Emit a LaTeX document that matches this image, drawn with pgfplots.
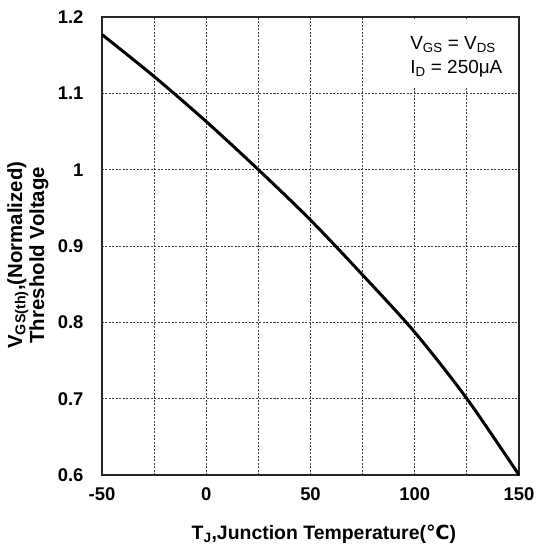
\documentclass[border=0pt]{standalone}
\usepackage{fontspec}
\setmainfont{Liberation Sans}
\newfontfamily\dvfont{DejaVu Sans}
\usepackage{pgfplots}
\pgfplotsset{compat=1.18}

\begin{document}
\begin{tikzpicture}
\begin{axis}[
    name=ax,
    width=417bp, height=458bp, scale only axis,
    xmin=-50, xmax=150,
    ymin=0.6, ymax=1.2,
    xtick={-50,-25,...,150},
    xticklabels={-50,,0,,50,,100,,150},
    ytick={0.6,0.7,...,1.2},
    yticklabels={0.6,0.7,0.8,0.9,1,1.1,1.2},
    major tick length=0pt,
    grid=major,
    grid style={black!75, line width=0.8bp, dash pattern=on 2bp off 1.5bp},
    axis line style={black!85, line width=1.3bp},
    /pgf/number format/assume math mode=true,
    tick label style={font=\bfseries\fontsize{18.5}{20}\selectfont},
    xticklabel shift=9bp,
    yticklabel shift=15bp,
    xlabel={T\textsubscript{J},Junction Temperature({\dvfont ℃})},
    xlabel style={at={(axis description cs:0.532,0)}, anchor=center, yshift=-59bp,
        font=\bfseries\fontsize{19.5}{21}\selectfont},
    ylabel={V\textsubscript{GS(th)},(Normalized)\\Threshold Voltage},
    ylabel style={at={(axis description cs:-0.178,0.48)}, anchor=center, align=center,
        font=\bfseries\fontsize{20.5}{19.5}\selectfont},
]
\addplot[black, line width=3bp, smooth, tension=0.5] coordinates {
    (-50,1.177) (-25,1.122) (0,1.063) (25,1.000) (50,0.934)
    (75,0.862) (100,0.787) (125,0.700) (150,0.600)
};
\fill[white] (rel axis cs:0.679,0.849) rectangle (rel axis cs:0.997,0.996);
\node[anchor=north west, align=left, inner sep=0pt,
      font=\fontsize{19}{24}\selectfont]
    at (rel axis cs:0.739,0.958)
    {V\textsubscript{GS} = V\textsubscript{DS}\\I\textsubscript{D} = 250μA};
\end{axis}
\path ([shift={(-102bp,-75bp)}]ax.south west) rectangle ([shift={(434bp,475bp)}]ax.south west);
\end{tikzpicture}
\end{document}
